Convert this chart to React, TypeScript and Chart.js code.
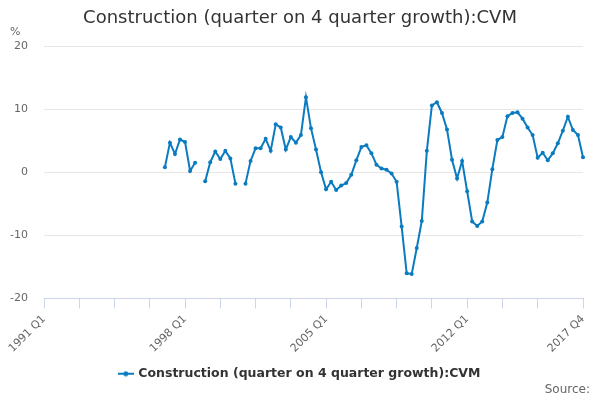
import { useEffect, useRef } from 'react';
import { Chart, registerables } from 'chart.js';

Chart.register(...registerables);

const FONT = "'DejaVu Sans', sans-serif";
const LINE_COLOR = '#0b7bc0';

const seriesName = 'Construction (quarter on 4 quarter growth):CVM';
const years = Array.from({ length: 27 }, (_, i) => 1991 + i);
const quarters = years.flatMap((y) => ['Q1', 'Q2', 'Q3', 'Q4'].map((q) => `${y} ${q}`));
const labelledQuarters = ['1991 Q1', '1998 Q1', '2005 Q1', '2012 Q1', '2017 Q4'];
const yTicks = [-20, -10, 0, 10, 20];

// % growth, one row per year (null = no figure published)
const growth: (number | null)[] = [
  null, null, null, null, // 1991
  null, null, null, null, // 1992
  null, null, null, null, // 1993
  null, null, null, null, // 1994
  null, null, null, null, // 1995
  null, null, null, null, // 1996
  0.8, 4.7, 2.9, 5.2, // 1997
  4.8, 0.2, 1.5, null, // 1998
  -1.4, 1.6, 3.3, 2.1, // 1999
  3.4, 2.2, -1.8, null, // 2000
  -1.8, 1.8, 3.8, 3.8, // 2001
  5.3, 3.4, 7.6, 7.1, // 2002
  3.6, 5.6, 4.7, 5.9, // 2003
  11.9, 7.0, 3.6, 0.0, // 2004
  -2.7, -1.5, -2.8, -2.1, // 2005
  -1.7, -0.4, 1.9, 4.0, // 2006
  4.3, 3.0, 1.2, 0.6, // 2007
  0.4, -0.2, -1.5, -8.6, // 2008
  -16.0, -16.1, -12.0, -7.7, // 2009
  3.4, 10.6, 11.1, 9.4, // 2010
  6.8, 2.0, -1.0, 1.8, // 2011
  -3.0, -7.8, -8.5, -7.8, // 2012
  -4.8, 0.5, 5.1, 5.6, // 2013
  8.9, 9.4, 9.5, 8.5, // 2014
  7.1, 5.9, 2.3, 3.1, // 2015
  1.9, 3.0, 4.6, 6.6, // 2016
  8.8, 6.7, 5.9, 2.4, // 2017
];

// small tick marks every 7 quarters, plus one on the last quarter
const hasTickMark = (i: number) => (i % 7 === 0 && i <= 98) || i === quarters.length - 1;

// "%" above the y axis and "Source:" in the bottom right corner;
// also centre title and legend on the whole canvas
const extraText = {
  id: 'extraText',
  afterLayout(chart: Chart) {
    const blocks = [(chart as any).titleBlock, chart.legend];
    blocks.forEach((b: any) => {
      if (!b) return;
      b.left = 0;
      b.right = chart.width;
      b.width = chart.width;
    });
  },
  afterDraw(chart: Chart) {
    const { ctx } = chart;
    ctx.save();
    ctx.fillStyle = '#666666';
    ctx.font = `11px ${FONT}`;
    ctx.textBaseline = 'middle';
    ctx.textAlign = 'left';
    ctx.fillText('%', 10, 32);
    ctx.font = `12px ${FONT}`;
    ctx.textAlign = 'right';
    ctx.fillText('Source:', 590, 390);
    ctx.restore();
  },
};

function legendSymbol() {
  const c = document.createElement('canvas');
  c.width = 16;
  c.height = 6;
  const g = c.getContext('2d');
  if (g) {
    g.strokeStyle = LINE_COLOR;
    g.fillStyle = LINE_COLOR;
    g.lineWidth = 2;
    g.beginPath();
    g.moveTo(0, 3);
    g.lineTo(16, 3);
    g.stroke();
    g.beginPath();
    g.arc(8, 3, 2.5, 0, Math.PI * 2);
    g.fill();
  }
  return c;
}

function GrowthChart() {
  const canvasRef = useRef<HTMLCanvasElement | null>(null);
  const chartRef = useRef<Chart | null>(null);

  useEffect(() => {
    document.body.style.margin = '0';
    if (!canvasRef.current) return;
    const symbol = legendSymbol();

    chartRef.current = new Chart(canvasRef.current, {
      type: 'line',
      data: {
        labels: quarters,
        datasets: [
          {
            label: seriesName,
            data: growth,
            borderColor: LINE_COLOR,
            backgroundColor: LINE_COLOR,
            borderWidth: 2,
            pointRadius: 2,
            pointBorderWidth: 0,
            spanGaps: false,
            tension: 0,
          },
        ],
      },
      options: {
        responsive: false,
        animation: false,
        layout: { padding: { left: 0, right: 17, top: 0, bottom: 10 } },
        scales: {
          x: {
            offset: false,
            border: { display: true, color: '#ccd6eb' },
            grid: {
              display: true,
              drawOnChartArea: false,
              drawTicks: true,
              tickLength: 10,
              tickColor: (ctx) => (hasTickMark(ctx.index) ? '#ccd6eb' : 'rgba(0,0,0,0)'),
            },
            ticks: {
              autoSkip: false,
              maxRotation: 45,
              minRotation: 45,
              padding: 4,
              color: '#666666',
              font: { family: FONT, size: 11 },
              callback: (_v, i) => (labelledQuarters.includes(quarters[i]) ? quarters[i] : ''),
            },
            afterFit: (scale) => {
              scale.height = 59;
            },
          },
          y: {
            min: yTicks[0],
            max: yTicks[yTicks.length - 1],
            border: { display: false },
            grid: { color: '#e6e6e6', drawTicks: false },
            afterBuildTicks: (scale) => {
              scale.ticks = yTicks.map((v) => ({ value: v }));
            },
            ticks: {
              padding: 16,
              color: '#666666',
              font: { family: FONT, size: 11 },
            },
            afterFit: (scale) => {
              scale.width = 44;
            },
          },
        },
        plugins: {
          title: {
            display: true,
            text: seriesName,
            color: '#333333',
            font: { family: FONT, size: 18, weight: 'normal' },
            padding: { top: 8, bottom: 16.5 },
          },
          legend: {
            position: 'bottom',
            labels: {
              usePointStyle: true,
              boxWidth: 16,
              padding: 10,
              color: '#333333',
              font: { family: FONT, size: 12.5, weight: 'bold' },
              generateLabels: () => [
                {
                  text: seriesName,
                  pointStyle: symbol,
                  fillStyle: LINE_COLOR,
                  strokeStyle: LINE_COLOR,
                  lineWidth: 0,
                  hidden: false,
                  datasetIndex: 0,
                  fontColor: '#333333',
                },
              ],
            },
          },
          tooltip: { enabled: false },
        },
      },
      plugins: [extraText],
    });

    return () => {
      if (chartRef.current) {
        chartRef.current.destroy();
        chartRef.current = null;
      }
    };
  }, []);

  return <canvas ref={canvasRef} width="600" height="400"></canvas>;
}

export default function App() {
  return <GrowthChart />;
}
